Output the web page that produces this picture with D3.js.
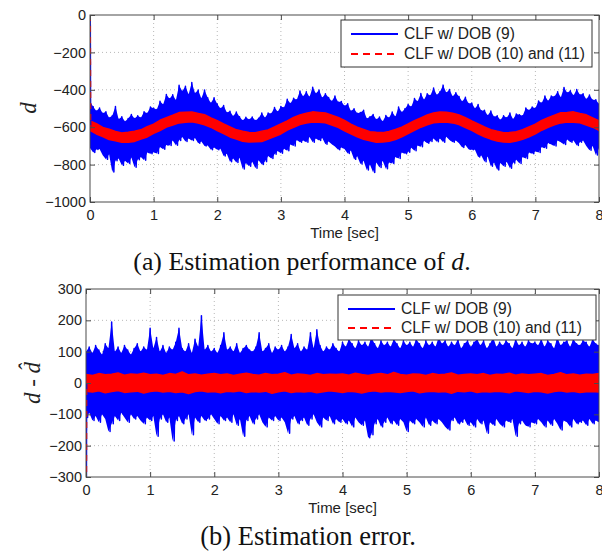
<!DOCTYPE html>
<html>
<head>
<meta charset="utf-8">
<script src="https://cdn.jsdelivr.net/npm/d3@7"></script>
<style>
body { margin: 0; background: #fff; }
svg { display: block; }
</style>
</head>
<body>
<svg></svg>
<script>
// ---- data (samples evenly spread over 0..8 s) ----
const xTicks = [0, 1, 2, 3, 4, 5, 6, 7, 8];
const topYTicks = [0, -200, -400, -600, -800, -1000];
const errYTicks = [300, 200, 100, 0, -100, -200, -300];
const legendLabels = ["CLF w/ DOB (9)", "CLF w/ DOB (10) and (11)"];

// start-up transient at t = 0
const startT = [0, 0.006];
const topStartVals = [0, -600];
const errStartVals = [-600, 0];

// (a) blue: upper / lower swing of the noisy estimate, every 0.05 s
const topBlueHi = [
  -461, -490, -514, -497, -525, -517, -549, -539, -489, -557, -544, -570, -554, -532, -554, -539, -549, -517, -525, -492,
  -499, -505, -461, -478, -425, -448, -426, -456, -376, -408, -381, -425, -361, -418, -401, -446, -401, -443, -470, -443,
  -476, -500, -484, -522, -515, -542, -519, -544, -564, -547, -559, -545, -564, -552, -524, -549, -524, -527, -495, -517,
  -489, -495, -451, -473, -445, -453, -406, -436, -411, -438, -386, -420, -401, -443, -421, -441, -461, -433, -465, -463,
  -486, -475, -514, -502, -525, -522, -509, -554, -544, -532, -559, -545, -569, -537, -549, -519, -544, -492, -520, -502,
  -479, -490, -446, -463, -420, -453, -421, -431, -391, -428, -411, -375, -416, -398, -436, -416, -436, -463, -440, -473,
  -471, -500, -479, -512, -510, -537, -514, -544, -539, -562, -539, -550, -524, -557, -529, -534, -539, -497, -510, -492,
  -499, -460, -471, -433, -460, -433, -436, -411, -441, -388, -416, -405, -431, -398, -426, -421, -451, -428, -455, -453,
  -476
];
const topBlueLo = [
  -711, -735, -719, -717, -750, -772, -744, -839, -779, -767, -804, -780, -794, -762, -814, -774, -759, -777, -735, -742,
  -734, -740, -706, -718, -695, -698, -671, -696, -671, -653, -676, -660, -671, -658, -686, -676, -701, -698, -720, -708,
  -721, -715, -754, -742, -785, -767, -789, -764, -824, -792, -809, -785, -819, -777, -799, -784, -754, -767, -745, -727,
  -739, -715, -726, -693, -700, -668, -681, -671, -681, -653, -681, -660, -671, -658, -691, -676, -691, -703, -720, -708,
  -716, -740, -724, -772, -755, -797, -779, -829, -799, -842, -789, -815, -779, -822, -789, -794, -759, -767, -735, -742,
  -734, -710, -726, -698, -705, -673, -686, -676, -661, -678, -661, -680, -651, -668, -681, -671, -686, -708, -695, -718,
  -721, -720, -759, -752, -785, -757, -809, -789, -829, -792, -809, -785, -819, -792, -774, -794, -759, -767, -735, -742,
  -729, -735, -706, -713, -685, -693, -701, -671, -681, -693, -666, -680, -671, -698, -681, -671, -701, -723, -700, -748,
  -711
];
// (a) red: band of the second estimate, every 0.1 s
const topRedHi = [
  -566, -581, -601, -611, -623, -631, -627, -622, -614, -597, -584, -563, -549, -536, -522, -520, -519, -526, -533, -550,
  -565, -583, -598, -614, -622, -628, -630, -621, -615, -599, -582, -566, -548, -534, -525, -518, -521, -524, -536, -548,
  -564, -584, -600, -612, -624, -627, -629, -623, -612, -600, -583, -565, -550, -535, -524, -519, -520, -525, -535, -549,
  -566, -582, -599, -613, -622, -630, -628, -624, -613, -598, -584, -564, -549, -536, -523, -521, -518, -527, -534, -550,
  -566
];
const topRedLo = [
  -617, -636, -650, -666, -672, -680, -681, -676, -663, -652, -633, -618, -599, -588, -577, -573, -571, -578, -587, -600,
  -618, -634, -652, -663, -675, -679, -678, -677, -664, -650, -636, -615, -601, -586, -578, -572, -573, -576, -588, -601,
  -619, -635, -651, -665, -673, -681, -679, -675, -666, -651, -634, -617, -600, -587, -576, -574, -572, -577, -586, -602,
  -617, -635, -651, -664, -674, -679, -681, -674, -665, -652, -635, -616, -601, -587, -577, -572, -574, -576, -588, -600,
  -617
];

// (b) estimation error, blue swing every 0.05 s
const errBlueHi = [
  100, 115, 95, 120, 105, 90, 125, 110, 195, 100, 115, 95, 120, 105, 90, 110, 125, 100, 115, 105,
  175, 110, 145, 100, 120, 95, 115, 105, 130, 175, 110, 100, 125, 95, 140, 115, 215, 105, 120, 100,
  110, 95, 120, 160, 105, 115, 100, 125, 95, 110, 120, 105, 100, 115, 160, 100, 110, 125, 95, 115,
  105, 120, 100, 115, 155, 110, 125, 100, 115, 105, 160, 110, 170, 120, 100, 115, 105, 125, 110, 100,
  130, 115, 140, 125, 110, 135, 120, 130, 115, 145, 125, 110, 135, 120, 130, 115, 140, 125, 110, 135,
  120, 130, 115, 140, 125, 110, 135, 120, 130, 115, 145, 125, 135, 115, 130, 120, 140, 110, 125, 135,
  115, 130, 140, 120, 135, 110, 125, 145, 115, 130, 120, 135, 125, 110, 140, 120, 130, 115, 135, 125,
  130, 120, 140, 115, 135, 125, 110, 145, 120, 130, 135, 115, 140, 125, 120, 135, 130, 115, 140, 125,
  120
];
const errBlueLo = [
  -110, -95, -120, -105, -125, -100, -115, -155, -130, -105, -120, -95, -110, -125, -100, -115, -105, -120, -130, -110,
  -120, -105, -170, -115, -100, -125, -110, -185, -120, -105, -130, -115, -100, -165, -110, -125, -105, -120, -115, -100,
  -115, -130, -105, -120, -110, -125, -100, -135, -115, -170, -120, -105, -130, -115, -100, -125, -140, -110, -120, -105,
  -120, -110, -125, -160, -115, -105, -130, -120, -110, -135, -115, -100, -125, -140, -110, -120, -105, -130, -115, -125,
  -115, -130, -120, -140, -110, -125, -135, -120, -175, -165, -130, -115, -140, -125, -110, -130, -120, -135, -115, -125,
  -155, -120, -130, -115, -125, -140, -110, -135, -120, -130, -115, -125, -140, -150, -120, -110, -130, -125, -115, -135,
  -125, -140, -115, -130, -120, -160, -125, -135, -115, -130, -140, -120, -125, -115, -170, -130, -120, -135, -140, -125,
  -130, -115, -125, -140, -120, -135, -115, -130, -150, -120, -125, -140, -115, -130, -125, -120, -135, -115, -130, -120,
  -125
];
// (b) red band every 0.1 s
const errRedHi = [
  27, 24, 30, 26, 28, 32, 25, 29, 27, 31, 26, 28, 24, 30, 27, 35, 26, 29, 25, 28,
  30, 26, 29, 24, 28, 31, 27, 25, 30, 26, 28, 33, 25, 29, 27, 24, 30, 26, 28, 27,
  29, 25, 31, 27, 24, 28, 30, 26, 34, 27, 25, 29, 28, 24, 30, 26, 28, 32, 25, 27,
  29, 26, 30, 24, 28, 27, 31, 25, 29, 26, 28, 30, 24, 27, 33, 26, 29, 25, 28, 27,
  30
];
const errRedLo = [
  -26, -29, -25, -31, -27, -24, -30, -28, -26, -32, -27, -25, -29, -26, -30, -28, -34, -27, -25, -29,
  -27, -31, -26, -28, -25, -30, -27, -29, -26, -33, -28, -25, -30, -27, -29, -26, -31, -28, -25, -27,
  -30, -26, -28, -32, -27, -25, -29, -26, -28, -30, -27, -25, -31, -28, -26, -29, -27, -33, -26, -28,
  -25, -30, -27, -29, -26, -28, -31, -25, -27, -30, -26, -28, -32, -27, -25, -29, -26, -30, -28, -27,
  -29
];

const W = 602, H = 552;
const BLUE = "#0000ff", RED = "#ff0000", AXIS = "#4a4a4a";
const sans = "'Liberation Sans', Arial, sans-serif";
const serif = "'Liberation Serif', 'Times New Roman', serif";

const svg = d3.select("svg").attr("width", W).attr("height", H);

function drawPanel(p) {
  const g = svg.append("g");
  const x = d3.scaleLinear().domain([0, 8]).range([p.l, p.r]);
  const y = d3.scaleLinear().domain(p.yDomain).range([p.b, p.t]);

  g.append("clipPath").attr("id", p.id)
    .append("rect").attr("x", p.l).attr("y", p.t)
    .attr("width", p.r - p.l).attr("height", p.b - p.t);

  // dotted grid
  g.append("g").selectAll("line").data(xTicks.slice(1, -1)).join("line")
    .attr("x1", d => x(d)).attr("x2", d => x(d))
    .attr("y1", p.t).attr("y2", p.b)
    .attr("stroke", "#b8b8b8").attr("stroke-dasharray", "1,3");
  g.append("g").selectAll("line").data(p.yTicks.slice(1, -1)).join("line")
    .attr("x1", p.l).attr("x2", p.r)
    .attr("y1", d => y(d)).attr("y2", d => y(d))
    .attr("stroke", "#b8b8b8").attr("stroke-dasharray", "1,3");

  const plot = g.append("g").attr("clip-path", `url(#${p.id})`);

  // noisy trace: filled core between the swings, plus the swing itself
  const dt = 8 / (p.blueHi.length - 1);
  plot.append("path")
    .attr("d", d3.area()
      .x((d, i) => x(i * dt))
      .y0((d, i) => y(p.blueLo[i]))
      .y1(d => y(d))(p.blueHi))
    .attr("fill", BLUE);
  const swing = p.blueHi.flatMap((v, i) => [[i * dt, v], [i * dt + dt / 2, p.blueLo[i]]]);
  plot.append("path")
    .attr("d", d3.line().x(d => x(d[0])).y(d => y(d[1]))(swing))
    .attr("fill", "none").attr("stroke", BLUE).attr("stroke-width", 1.5)
    .attr("stroke-linejoin", "round");

  const band = d3.area()
    .x((d, i) => x(i * 8 / (p.redHi.length - 1)))
    .y0((d, i) => y(p.redLo[i]))
    .y1(d => y(d));
  plot.append("path").attr("d", band(p.redHi)).attr("fill", RED)
    .attr("stroke", RED).attr("stroke-width", 1.5).attr("stroke-linejoin", "round");

  // transient at t = 0
  const startLine = d3.line().x((d, i) => x(startT[i])).y(d => y(d));
  plot.append("path").attr("d", startLine(p.startVals))
    .attr("fill", "none").attr("stroke", BLUE).attr("stroke-width", 2);
  plot.append("path").attr("d", startLine(p.startVals))
    .attr("fill", "none").attr("stroke", RED).attr("stroke-width", 2)
    .attr("stroke-dasharray", "6,5");

  // box + inward ticks
  g.append("rect").attr("x", p.l).attr("y", p.t)
    .attr("width", p.r - p.l).attr("height", p.b - p.t)
    .attr("fill", "none").attr("stroke", AXIS).attr("stroke-width", 1);

  const tk = 5;
  const fmt = d3.format("d");
  const axB = g.append("g").attr("transform", `translate(0,${p.b})`)
    .call(d3.axisBottom(x).tickValues(xTicks).tickFormat(fmt).tickSizeInner(-tk).tickSizeOuter(0).tickPadding(8));
  const axT = g.append("g").attr("transform", `translate(0,${p.t})`)
    .call(d3.axisTop(x).tickValues(xTicks).tickSizeInner(-tk).tickSizeOuter(0).tickFormat(""));
  const axL = g.append("g").attr("transform", `translate(${p.l},0)`)
    .call(d3.axisLeft(y).tickValues(p.yTicks).tickFormat(fmt).tickSizeInner(-tk).tickSizeOuter(0).tickPadding(4));
  const axR = g.append("g").attr("transform", `translate(${p.r},0)`)
    .call(d3.axisRight(y).tickValues(p.yTicks).tickSizeInner(-tk).tickSizeOuter(0).tickFormat(""));
  [axB, axT, axL, axR].forEach(a => {
    a.select(".domain").remove();
    a.selectAll("line").attr("stroke", AXIS);
    a.selectAll("text").attr("fill", "#222").style("font-family", sans).style("font-size", "14.5px");
  });

  g.append("text").attr("x", (p.l + p.r) / 2).attr("y", p.b + 36)
    .attr("text-anchor", "middle").style("font-family", sans).style("font-size", "15px")
    .attr("fill", "#222").text("Time [sec]");

  // legend
  const lg = g.append("g");
  lg.append("rect").attr("x", p.lg.x).attr("y", p.lg.y)
    .attr("width", p.lg.w).attr("height", p.lg.h)
    .attr("fill", "#fff").attr("stroke", "#333").attr("stroke-width", 1);
  const rows = lg.selectAll("g").data(legendLabels).join("g")
    .attr("transform", (d, i) => `translate(${p.lg.x + 10},${p.lg.y + p.lg.row0 + i * p.lg.dy})`);
  rows.append("line").attr("x1", 0).attr("x2", 47)
    .attr("stroke", (d, i) => i ? RED : BLUE).attr("stroke-width", 2)
    .attr("stroke-dasharray", (d, i) => i ? "7,5" : null);
  rows.append("text").attr("x", 53).attr("dy", "0.35em")
    .style("font-family", sans).style("font-size", "15.6px").attr("fill", "#222")
    .text(d => d);

  return g;
}

drawPanel({
  id: "clipA", l: 90, r: 599, t: 15, b: 202, yDomain: [-1000, 0], yTicks: topYTicks,
  blueHi: topBlueHi, blueLo: topBlueLo, redHi: topRedHi, redLo: topRedLo, startVals: topStartVals,
  lg: { x: 341, y: 20, w: 251, h: 47, row0: 14, dy: 20 }
});
drawPanel({
  id: "clipB", l: 86, r: 599, t: 289, b: 477, yDomain: [-300, 300], yTicks: errYTicks,
  blueHi: errBlueHi, blueLo: errBlueLo, redHi: errRedHi, redLo: errRedLo, startVals: errStartVals,
  lg: { x: 338, y: 295, w: 258, h: 45, row0: 14, dy: 19 }
});

// y labels
svg.append("text").attr("transform", "translate(36,108) rotate(-90)")
  .attr("text-anchor", "middle").style("font-family", serif).style("font-size", "23px")
  .style("font-style", "italic").attr("fill", "#222").text("d");

const yl = svg.append("text").attr("transform", "translate(40,383) rotate(-90)")
  .attr("text-anchor", "middle").style("font-family", serif).style("font-size", "23px")
  .attr("fill", "#222");
yl.append("tspan").style("font-style", "italic").text("d");
yl.append("tspan").text(" - ");
yl.append("tspan").style("font-style", "italic").text("d\u0302");

// captions
const capA = svg.append("text").attr("x", 302).attr("y", 270)
  .attr("text-anchor", "middle").style("font-family", serif).style("font-size", "25.8px")
  .attr("fill", "#111");
capA.append("tspan").text("(a) Estimation performance of ");
capA.append("tspan").style("font-style", "italic").text("d");
capA.append("tspan").text(".");

svg.append("text").attr("x", 308).attr("y", 545)
  .attr("text-anchor", "middle").style("font-family", serif).style("font-size", "26.5px")
  .attr("fill", "#111").text("(b) Estimation error.");
</script>
</body>
</html>
